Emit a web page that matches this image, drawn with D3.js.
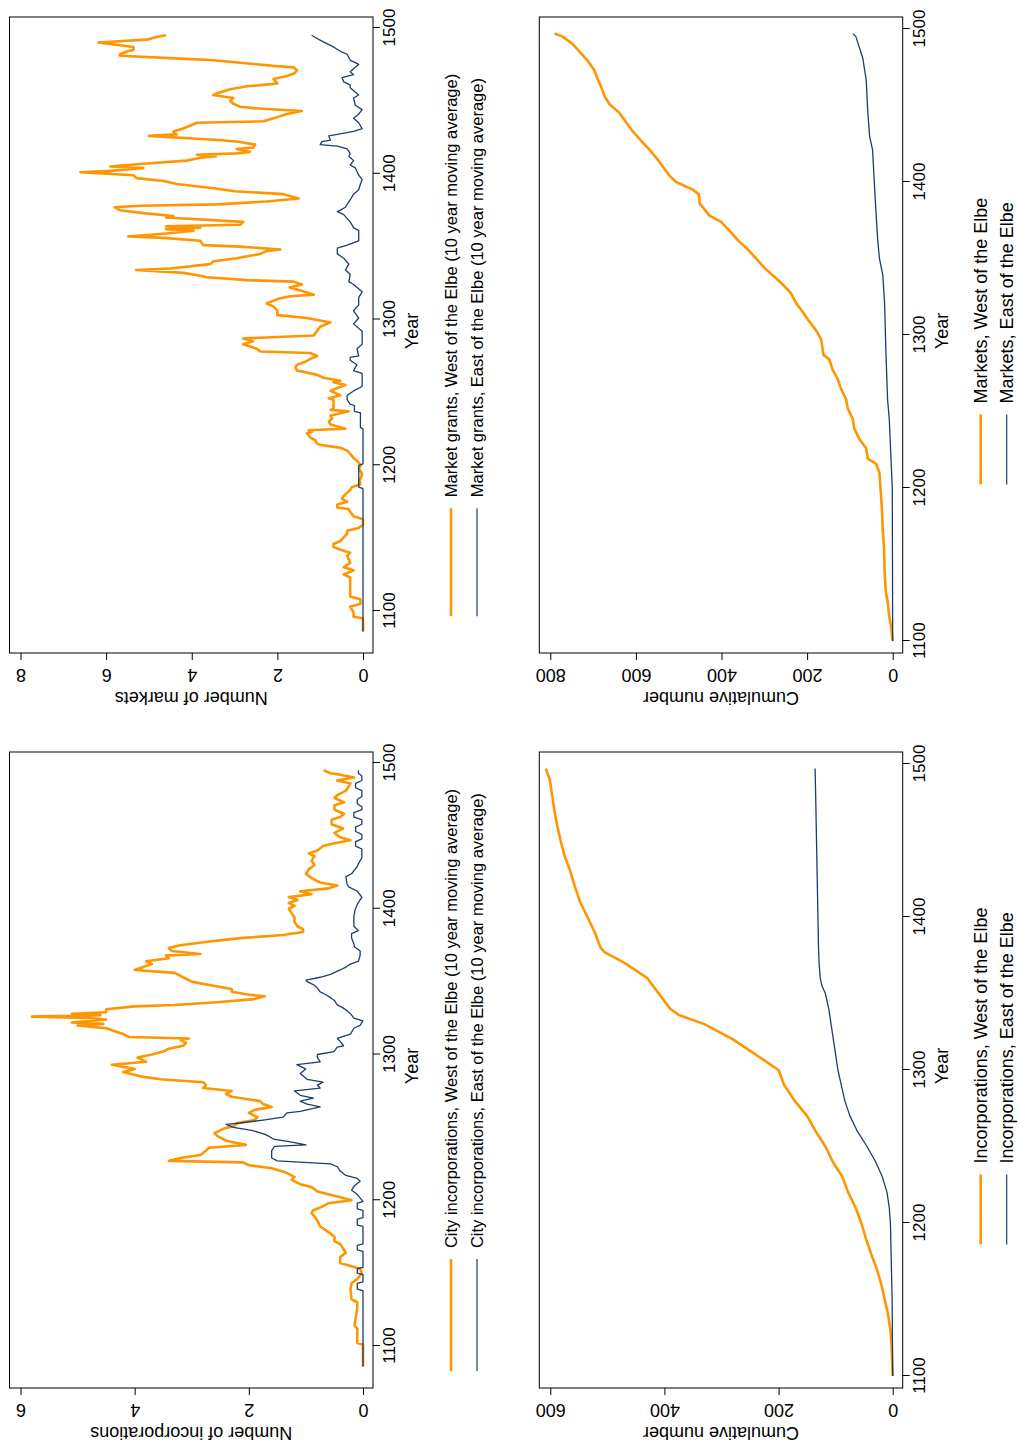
<!DOCTYPE html>
<html><head><meta charset="utf-8">
<script src="https://cdn.jsdelivr.net/npm/d3@7"></script>
<style>
body{margin:0;background:#fff}
svg{display:block}
text{font-family:"Liberation Sans",Arial,Helvetica,sans-serif;fill:#000}
</style>
</head><body>
<svg id="c" width="1019" height="1443"></svg>
<script>
// ---------------- DATA ----------------
const yearTicks = [1100, 1200, 1300, 1400, 1500];
const incTicks = [0, 2, 4, 6];
const mktTicks = [0, 2, 4, 6, 8];
const cumIncTicks = [0, 200, 400, 600];
const cumMktTicks = [0, 200, 400, 600, 800];

const legendIncMA = ["City incorporations, West of the Elbe (10 year moving average)",
                     "City incorporations, East of the Elbe (10 year moving average)"];
const legendMktMA = ["Market grants, West of the Elbe (10 year moving average)",
                     "Market grants, East of the Elbe (10 year moving average)"];
const legendIncCum = ["Incorporations, West of the Elbe", "Incorporations, East of the Elbe"];
const legendMktCum = ["Markets, West of the Elbe", "Markets, East of the Elbe"];

// City incorporations, 10 year moving average, West of the Elbe
const incWest = [[1086,0],[1101,0],[1102,0.1],[1112,0.1],[1114,0.15],[1126,0.1],[1130,0.1],[1132,0.2],[1139,0.22],[1143,0.2],[1146,0.1],[1150,0.02],[1153,0.05],[1157,0.4],[1161,0.4],[1164,0.3],[1167,0.35],[1170,0.4],[1172,0.5],[1175,0.5],[1178,0.6],[1182,0.75],[1186,0.8],[1189,0.85],[1191,0.9],[1193,0.88],[1195,0.75],[1198,0.6],[1200,0.2],[1202,0.4],[1206,0.8],[1209,0.9],[1211,1.1],[1214,1.25],[1216,1.2],[1219,1.35],[1222,1.6],[1224,2.0],[1226,2.1],[1227,3.4],[1229,3.2],[1231,2.85],[1234,2.75],[1236,2.7],[1238,2.05],[1240,2.3],[1241,2.4],[1244,2.55],[1246,2.6],[1249,2.45],[1251,2.25],[1253,2.2],[1255,1.9],[1257,1.85],[1260,2.0],[1262,1.9],[1264,1.6],[1266,1.75],[1268,1.8],[1271,2.3],[1273,2.4],[1275,2.3],[1277,2.8],[1279,2.75],[1281,2.8],[1283,3.55],[1285,3.9],[1288,4.2],[1290,4.0],[1293,4.4],[1295,3.8],[1298,3.95],[1300,3.7],[1302,3.5],[1304,3.4],[1306,3.15],[1308,3.1],[1310,3.2],[1311,3.05],[1312,4.1],[1314,4.2],[1316,4.35],[1318,4.5],[1320,5.0],[1321,4.55],[1322,5.1],[1324,4.5],[1325,4.8],[1326,5.8],[1327,4.6],[1328,5.1],[1329,4.5],[1331,4.5],[1333,4.0],[1334,3.3],[1336,2.5],[1338,1.9],[1340,1.72],[1341,2.0],[1343,2.3],[1345,2.3],[1347,2.6],[1350,3.0],[1353,3.15],[1356,3.3],[1358,4.0],[1360,3.85],[1362,3.7],[1364,3.8],[1366,3.4],[1368,3.45],[1369,2.85],[1371,3.35],[1373,3.4],[1375,3.2],[1377,2.8],[1379,2.35],[1380,2.1],[1382,1.4],[1384,1.05],[1386,1.05],[1388,1.15],[1391,1.2],[1394,1.2],[1397,1.25],[1400,1.3],[1402,1.2],[1404,1.3],[1406,1.15],[1408,1.3],[1410,0.9],[1412,1.1],[1414,0.6],[1416,0.45],[1418,0.75],[1421,0.9],[1424,1.0],[1427,0.95],[1430,0.85],[1433,0.9],[1436,0.85],[1438,0.95],[1440,0.8],[1443,0.7],[1445,0.5],[1447,0.22],[1449,0.4],[1452,0.5],[1455,0.35],[1458,0.55],[1461,0.55],[1463,0.4],[1465,0.33],[1468,0.5],[1471,0.5],[1473,0.33],[1476,0.5],[1478,0.45],[1481,0.3],[1484,0.25],[1486,0.22],[1488,0.45],[1490,0.16],[1492,0.4],[1493,0.57],[1495,0.69]];

// City incorporations, 10 year moving average, East of the Elbe
const incEast = [[1086,0],[1138,0],[1139,0.1],[1143,0.1],[1144,0],[1149,0],[1150,0.1],[1153,0.1],[1154,0],[1165,0],[1166,0.1],[1169,0.1],[1170,0],[1182,0],[1183,0.1],[1187,0.1],[1188,0],[1193,0],[1194,0.1],[1198,0.1],[1199,0],[1204,0.1],[1207,0.2],[1210,0.15],[1213,0.05],[1215,0.1],[1217,0.3],[1220,0.4],[1223,0.45],[1225,0.57],[1227,1.5],[1229,1.6],[1234,1.6],[1237,1.55],[1238,1.0],[1240,1.27],[1242,1.57],[1245,1.7],[1248,1.95],[1250,2.27],[1252,2.4],[1253,2.15],[1255,1.75],[1257,1.4],[1260,1.33],[1261,1.1],[1264,0.75],[1266,0.98],[1268,1.1],[1270,0.87],[1272,1.1],[1275,1.2],[1277,0.75],[1279,0.8],[1281,0.7],[1283,0.98],[1287,1.1],[1290,1.0],[1293,1.16],[1295,0.75],[1298,0.8],[1300,0.8],[1302,0.51],[1305,0.45],[1306,0.34],[1309,0.4],[1311,0.45],[1314,0.22],[1318,0.16],[1320,0.05],[1323,0],[1325,0.16],[1328,0.22],[1330,0.28],[1332,0.35],[1334,0.45],[1337,0.5],[1339,0.57],[1341,0.65],[1343,0.75],[1346,0.81],[1348,0.87],[1350,0.98],[1351,1.0],[1353,0.75],[1355,0.57],[1358,0.4],[1360,0.3],[1362,0.22],[1364,0.08],[1368,0.05],[1371,0.05],[1374,0.15],[1376,0.16],[1380,0.2],[1383,0.2],[1385,0.08],[1388,0.16],[1395,0.16],[1399,0.14],[1403,0.1],[1408,0.02],[1412,0.1],[1415,0.25],[1417,0.28],[1422,0.3],[1424,0.2],[1426,0.16],[1429,0.1],[1431,0.08],[1435,0.02],[1441,0.02],[1443,0.13],[1446,0.13],[1448,0.02],[1451,0.02],[1453,0.13],[1456,0.13],[1458,0.02],[1461,0.02],[1463,0.16],[1466,0.16],[1468,0.02],[1470,0.02],[1472,0.1],[1475,0.1],[1477,0.02],[1481,0.02],[1483,0.13],[1486,0.13],[1488,0.02],[1491,0.02],[1493,0.08],[1495,0.08]];

// Market grants, 10 year moving average, West of the Elbe
const mktWest = [[1086,0],[1095,0],[1096,0.22],[1099,0.22],[1103,0.3],[1105,0.06],[1108,0.06],[1110,0.3],[1123,0.3],[1124,0.37],[1125,0.45],[1128,0.22],[1130,0.45],[1133,0.3],[1138,0.37],[1140,0.3],[1142,0.53],[1144,0.69],[1146,0.69],[1148,0.53],[1153,0.37],[1155,0.37],[1157,0.1],[1159,0],[1163,0],[1165,0.22],[1168,0.3],[1170,0.34],[1171,0.6],[1173,0.6],[1175,0.37],[1177,0.49],[1179,0.45],[1183,0.3],[1185,0.26],[1187,0.06],[1189,0.08],[1194,0.02],[1198,0.1],[1200,0.05],[1203,0.14],[1205,0.22],[1208,0.3],[1210,0.37],[1212,0.53],[1214,1.0],[1215,1.08],[1217,1.11],[1219,1.23],[1222,1.31],[1223,1.19],[1224,1.27],[1225,0.41],[1228,0.76],[1230,0.8],[1232,0.72],[1234,0.76],[1237,0.34],[1238,0.76],[1239,0.69],[1245,0.69],[1246,0.8],[1248,0.53],[1251,0.76],[1253,0.6],[1255,0.41],[1257,0.69],[1258,0.53],[1260,0.92],[1262,1.07],[1265,1.54],[1267,1.58],[1269,1.54],[1271,1.35],[1273,1.23],[1275,1.07],[1277,1.23],[1278,2.4],[1280,2.48],[1283,2.8],[1285,2.57],[1287,2.8],[1289,1.15],[1292,1.08],[1295,1.0],[1298,0.76],[1301,1.31],[1303,2.0],[1306,2.0],[1309,2.09],[1311,2.25],[1314,2.0],[1316,1.71],[1317,1.15],[1319,1.36],[1322,1.71],[1324,1.43],[1326,1.62],[1327,2.7],[1329,3.65],[1330,3.8],[1332,4.2],[1334,5.3],[1335,4.5],[1338,3.57],[1340,3.49],[1342,2.95],[1345,2.4],[1347,2.25],[1348,1.93],[1350,2.87],[1351,3.73],[1354,3.8],[1356,4.66],[1357,5.48],[1359,4.6],[1361,3.96],[1362,4.6],[1363,3.8],[1364,4.6],[1365,2.87],[1367,2.8],[1370,4.6],[1371,4.43],[1373,5.13],[1375,5.68],[1377,5.8],[1378,5.21],[1379,3.4],[1381,2.25],[1383,1.5],[1386,1.86],[1388,3.0],[1390,3.49],[1393,4.35],[1395,4.66],[1397,5.29],[1399,5.36],[1401,6.6],[1402,5.9],[1404,5.13],[1405,5.9],[1407,5.05],[1409,4.12],[1411,3.8],[1412,3.43],[1413,3.88],[1414,2.95],[1415,2.64],[1417,2.95],[1418,2.56],[1420,2.52],[1422,2.91],[1423,3.3],[1426,5.0],[1427,4.35],[1429,4.43],[1431,4.2],[1434,3.96],[1435,3.88],[1436,2.32],[1438,2.09],[1441,1.78],[1443,1.43],[1445,2.56],[1446,2.87],[1448,3.03],[1450,3.1],[1452,3.03],[1454,3.5],[1455,3.43],[1458,3.1],[1460,2.71],[1461,2.32],[1462,2.0],[1465,2.09],[1467,1.78],[1469,1.6],[1471,1.54],[1473,1.62],[1474,2.09],[1476,2.8],[1478,3.57],[1479,4.27],[1481,5.68],[1482,5.68],[1484,5.5],[1485,5.36],[1487,5.36],[1490,6.18],[1492,5.05],[1494,4.8],[1495,4.6]];

// Market grants, 10 year moving average, East of the Elbe
const mktEast = [[1086,0],[1184,0],[1185,0.1],[1200,0.1],[1201,0],[1225,0],[1226,0.06],[1236,0.06],[1237,0.2],[1241,0.2],[1242,0.3],[1245,0.37],[1248,0.37],[1251,0.22],[1254,0.02],[1263,0.02],[1265,0.22],[1269,0.14],[1272,0.3],[1274,0.3],[1275,0.1],[1280,0.14],[1283,0.02],[1292,0.02],[1297,0.22],[1301,0.1],[1306,0.22],[1310,0.1],[1315,0.1],[1319,0.02],[1324,0.22],[1326,0.33],[1331,0.3],[1334,0.41],[1338,0.33],[1342,0.45],[1345,0.6],[1349,0.6],[1351,0.37],[1354,0.1],[1361,0.1],[1363,0.22],[1367,0.3],[1372,0.45],[1374,0.6],[1375,0.53],[1377,0.41],[1379,0.37],[1382,0.3],[1386,0.22],[1389,0.1],[1393,0.06],[1396,0.02],[1399,0.1],[1404,0.18],[1406,0.3],[1409,0.22],[1412,0.33],[1414,0.3],[1417,0.37],[1419,0.6],[1420,1.0],[1422,0.96],[1423,0.76],[1426,0.8],[1427,0.6],[1429,0.22],[1431,0.02],[1435,0.1],[1438,0.22],[1441,0.1],[1444,0.02],[1447,0.18],[1452,0.22],[1454,0.1],[1459,0.3],[1461,0.3],[1463,0.45],[1466,0.49],[1468,0.22],[1470,0.3],[1473,0.18],[1475,0.1],[1478,0.3],[1482,0.37],[1484,0.53],[1487,0.69],[1491,0.96],[1493,1.08],[1495,1.2]];

// Cumulative incorporations
const cumIncWest = [[1100,0],[1110,1],[1120,2],[1130,4],[1140,8],[1150,14],[1160,20],[1170,28],[1180,38],[1190,47],[1200,55],[1210,65],[1220,78],[1230,88],[1240,105],[1250,118],[1260,135],[1270,150],[1280,172],[1290,190],[1300,200],[1310,240],[1320,280],[1330,330],[1336,375],[1340,390],[1350,410],[1360,430],[1370,470],[1377,505],[1380,512],[1390,522],[1400,535],[1410,548],[1420,557],[1430,565],[1440,575],[1450,582],[1460,588],[1470,593],[1480,597],[1490,601],[1497,608]];
const cumIncEast = [[1100,0],[1150,1],[1200,4],[1210,6],[1220,10],[1230,18],[1240,30],[1250,45],[1260,62],[1270,75],[1280,84],[1290,90],[1300,96],[1310,100],[1320,104],[1330,108],[1340,112],[1350,118],[1355,124],[1360,127],[1370,129],[1380,130],[1400,131],[1420,132],[1440,133],[1460,134],[1480,135],[1497,136]];

// Cumulative markets
const cumMktWest = [[1100,0],[1110,4],[1116,8],[1126,12],[1132,16],[1145,19],[1160,20],[1171,23],[1185,25],[1194,27],[1210,31],[1216,39],[1219,58],[1226,62],[1232,78],[1239,90],[1245,93],[1252,105],[1258,109],[1265,121],[1271,128],[1277,140],[1284,148],[1287,162],[1297,167],[1303,179],[1310,198],[1315,210],[1321,226],[1327,237],[1333,257],[1339,280],[1344,300],[1350,319],[1356,339],[1362,362],[1368,381],[1374,401],[1378,428],[1386,451],[1392,453],[1395,467],[1400,506],[1404,521],[1410,537],[1416,553],[1421,568],[1427,588],[1433,607],[1439,623],[1445,638],[1451,662],[1456,673],[1462,681],[1467,689],[1473,697],[1479,712],[1484,728],[1490,747],[1495,771],[1497,790]];
const cumMktEast = [[1100,0],[1200,1],[1245,8],[1258,12],[1290,16],[1321,19],[1339,23],[1350,31],[1362,35],[1380,39],[1400,43],[1421,47],[1430,54],[1445,58],[1467,62],[1481,70],[1495,86],[1497,93]];

// ---------------- DRAWING ----------------
const ORANGE = "#ff9500", NAVY = "#1f3c6e";
const svg = d3.select("#c");
// Chart is drawn in landscape and turned a quarter turn counter-clockwise.
const root = svg.append("g").attr("transform", "translate(0,1443) rotate(-90)");

const panels = [
  {x0:55,  x1:691,  y0:9.5,   y1:373,   yearPad:[42,11], vmax:6,   vt:incTicks,    title:"Number of incorporations", west:incWest, east:incEast, leg:legendIncMA, key:112, off:-10, lfs:16.5},
  {x0:790, x1:1426, y0:9.5,   y1:373,   yearPad:[42,11], vmax:8,   vt:mktTicks,    title:"Number of markets",        west:mktWest, east:mktEast, leg:legendMktMA, key:108, off:-10, lfs:16.5},
  {x0:55,  x1:691,  y0:539.3, y1:902.7, yearPad:[12,12], vmax:600, vt:cumIncTicks, title:"Cumulative number",        west:cumIncWest, east:cumIncEast, leg:legendIncCum, key:70, off:-6, lfs:18},
  {x0:790, x1:1426, y0:539.3, y1:902.7, yearPad:[12,12], vmax:800, vt:cumMktTicks, title:"Cumulative number",        west:cumMktWest, east:cumMktEast, leg:legendMktCum, key:70, off:-6, lfs:18}
];

panels.forEach(p => {
  const g = root.append("g");
  const xs = d3.scaleLinear().domain([1100, 1500]).range([p.x0 + p.yearPad[0], p.x1 - p.yearPad[1]]);
  const ys = d3.scaleLinear().domain([0, p.vmax]).range([p.y1 - 10, p.y0 + 11]);

  // lines
  const line = d3.line().x(d => xs(d[0])).y(d => ys(d[1]));
  g.append("path").datum(p.west).attr("d", line).attr("fill", "none")
    .attr("stroke", ORANGE).attr("stroke-width", 2.6).attr("stroke-linejoin", "round");
  g.append("path").datum(p.east).attr("d", line).attr("fill", "none")
    .attr("stroke", NAVY).attr("stroke-width", 1.3).attr("stroke-linejoin", "round");

  // frame
  g.append("rect").attr("x", p.x0).attr("y", p.y0).attr("width", p.x1 - p.x0).attr("height", p.y1 - p.y0)
    .attr("fill", "none").attr("stroke", "#000").attr("stroke-width", 1);

  // year axis
  const xa = g.append("g").attr("transform", `translate(0,${p.y1})`)
    .call(d3.axisBottom(xs).tickValues(yearTicks).tickSize(7).tickPadding(3).tickFormat(d3.format("d")));
  xa.select(".domain").remove();
  xa.selectAll("line").attr("stroke", "#000");
  xa.selectAll("text").attr("font-size", 17).attr("fill", "#000").style("font-family", '"Liberation Sans",Arial,sans-serif');

  g.append("text").attr("x", (p.x0 + p.x1) / 2 + 4).attr("y", p.y1 + 45)
    .attr("text-anchor", "middle").attr("font-size", 18).text("Year");

  // value axis
  const ya = g.append("g").attr("transform", `translate(${p.x0},0)`)
    .call(d3.axisLeft(ys).tickValues(p.vt).tickSize(7).tickFormat(d3.format("d")));
  ya.select(".domain").remove();
  ya.selectAll("line").attr("stroke", "#000");
  ya.selectAll("text").attr("x", null).attr("dy", null).attr("text-anchor", "middle")
    .attr("transform", "translate(-16,0) rotate(-90)")
    .attr("font-size", 18).attr("fill", "#000").style("font-family", '"Liberation Sans",Arial,sans-serif');

  g.append("text").attr("text-anchor", "middle").attr("font-size", 18)
    .attr("transform", `translate(${p.x0 - 39},${(p.y0 + p.y1) / 2}) rotate(-90)`)
    .text(p.title);

  // legend
  const rows = [{c: ORANGE, w: 2.6, t: p.leg[0], dy: 78}, {c: NAVY, w: 1.2, t: p.leg[1], dy: 104}];
  const lg = g.append("g");
  const texts = rows.map(r => lg.append("text").attr("font-size", p.lfs).text(r.t));
  const tw = d3.max(texts, t => t.node().getComputedTextLength());
  const gap = 11;
  const total = p.key + gap + tw;
  const sx = (p.x0 + p.x1) / 2 + p.off - total / 2;
  rows.forEach((r, i) => {
    const yy = p.y1 + r.dy;
    lg.append("line").attr("x1", sx).attr("x2", sx + p.key).attr("y1", yy).attr("y2", yy)
      .attr("stroke", r.c).attr("stroke-width", r.w);
    texts[i].attr("x", sx + p.key + gap).attr("y", yy + 6);
  });
});
</script>
</body></html>
